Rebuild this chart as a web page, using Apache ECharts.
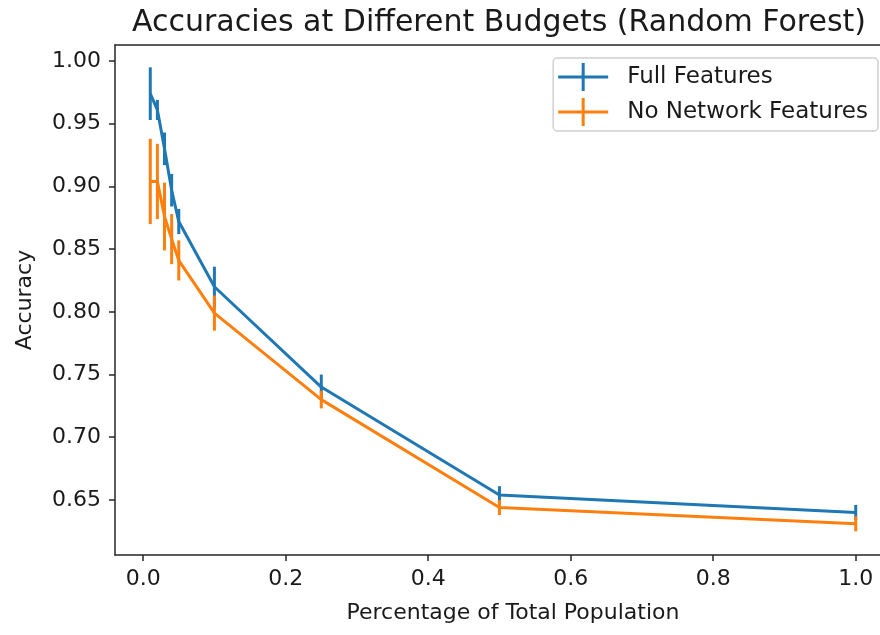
<!DOCTYPE html>
<html>
<head>
<meta charset="utf-8">
<script src="https://cdn.jsdelivr.net/npm/echarts@6/dist/echarts.min.js"></script>
<style>
html,body{margin:0;padding:0;background:#fff;overflow:hidden;}
#chart{width:880px;height:635px;}
</style>
</head>
<body>
<div id="chart"></div>
<script>
const budgets = [0.01, 0.02, 0.03, 0.04, 0.05, 0.1, 0.25, 0.5, 1.0];
const fullMean = [0.974, 0.961, 0.930, 0.897, 0.872, 0.820, 0.740, 0.654, 0.640];
const fullErr = [0.021, 0.008, 0.013, 0.013, 0.010, 0.016, 0.010, 0.007, 0.006];
const noNetMean = [0.904, 0.904, 0.876, 0.858, 0.841, 0.799, 0.730, 0.644, 0.631];
const noNetErr = [0.034, 0.030, 0.027, 0.020, 0.016, 0.014, 0.007, 0.006, 0.006];
const seriesNames = ['Full Features', 'No Network Features'];
const colors = ['#1f77b4', '#ff7f0e'];

const FONT = 'DejaVu Sans';
const TXT = '#1a1a1a';
const AX = '#262626';
const chart = echarts.init(document.getElementById('chart'));

function lineData(means) { return budgets.map((b, i) => [b, means[i]]); }
function errData(means, errs) { return budgets.map((b, i) => [b, means[i], errs[i]]); }

function errSeries(name, means, errs, color) {
  return {
    type: 'custom',
    name: name,
    data: errData(means, errs),
    encode: { x: 0, y: 1 },
    clip: false,
    renderItem: function (params, api) {
      const x = api.value(0), y = api.value(1), e = api.value(2);
      const p1 = api.coord([x, y - e]);
      const p2 = api.coord([x, y + e]);
      return {
        type: 'line',
        shape: { x1: p1[0], y1: p1[1], x2: p2[0], y2: p2[1] },
        style: { stroke: color, lineWidth: 3 }
      };
    }
  };
}

function meanSeries(name, means, color) {
  return {
    type: 'line',
    name: name,
    data: lineData(means),
    showSymbol: false,
    symbol: 'none',
    clip: false,
    lineStyle: { color: color, width: 3 },
    itemStyle: { color: color },
    animation: false
  };
}

const legendIcon = 'path://M0,12.5h50v3h-50z M23.5,0h3v28h-3z';

const option = {
  animation: false,
  title: {
    text: 'Accuracies at Different Budgets (Random Forest)',
    left: 494, top: 3, textAlign: 'center',
    textStyle: { fontFamily: FONT, fontSize: 30, fontWeight: 'normal', color: TXT }
  },
  legend: {
    orient: 'vertical',
    right: 2, top: 58,
    data: seriesNames.map(n => ({ name: n, icon: legendIcon })),
    itemWidth: 50, itemHeight: 28, itemGap: 7,
    padding: [5, 10, 5, 5],
    borderColor: '#d0d0d0', borderWidth: 1.5, borderRadius: 4,
    backgroundColor: '#fff',
    textStyle: { fontFamily: FONT, fontSize: 23, color: TXT, padding: [0, 0, 0, 14] },
    selectedMode: false
  },
  grid: {
    left: 115, top: 45, bottom: 80, right: -11,
    show: false,
    outerBoundsMode: 'none', containLabel: false
  },
  xAxis: [{
    type: 'value',
    min: -0.0395, max: 1.0495,
    splitNumber: 5,
    name: 'Percentage of Total Population',
    nameLocation: 'middle', nameGap: 47,
    nameTextStyle: { fontFamily: FONT, fontSize: 22, color: TXT, padding: [0, 0, 0, 20] },
    axisLine: { show: true, onZero: false, lineStyle: { color: AX, width: 1.5 } },
    axisTick: { show: true, length: 6, lineStyle: { color: AX, width: 1.5 } },
    axisLabel: {
      fontFamily: FONT, fontSize: 22, color: TXT, margin: 13,
      showMinLabel: false, showMaxLabel: false,
      formatter: v => v.toFixed(1)
    },
    splitLine: { show: false }
  }, {
    type: 'value',
    position: 'top',
    min: -0.0395, max: 1.0495,
    axisLine: { show: true, onZero: false, lineStyle: { color: AX, width: 1.5 } },
    axisTick: { show: false },
    axisLabel: { show: false },
    splitLine: { show: false }
  }],
  yAxis: {
    type: 'value',
    min: 0.6061, max: 1.0128,
    splitNumber: 8,
    name: 'Accuracy',
    nameLocation: 'middle', nameGap: 79,
    nameTextStyle: { fontFamily: FONT, fontSize: 22, color: TXT },
    axisLine: { show: true, onZero: false, lineStyle: { color: AX, width: 1.5 } },
    axisTick: { show: true, length: 6, lineStyle: { color: AX, width: 1.5 } },
    axisLabel: {
      fontFamily: FONT, fontSize: 22, color: TXT, margin: 14,
      showMinLabel: false, showMaxLabel: false,
      formatter: v => v.toFixed(2)
    },
    splitLine: { show: false }
  },
  series: [
    meanSeries(seriesNames[0], fullMean, colors[0]),
    errSeries(seriesNames[0], fullMean, fullErr, colors[0]),
    meanSeries(seriesNames[1], noNetMean, colors[1]),
    errSeries(seriesNames[1], noNetMean, noNetErr, colors[1])
  ]
};
chart.setOption(option);
</script>
</body>
</html>
